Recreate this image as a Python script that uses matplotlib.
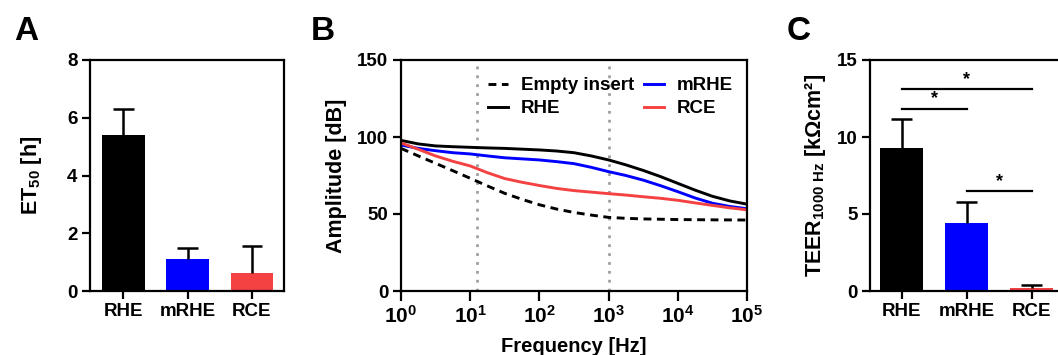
import matplotlib
matplotlib.use("Agg")
import matplotlib.pyplot as plt

plt.rcParams["font.family"] = ["Liberation Sans", "DejaVu Sans"]
plt.rcParams["font.weight"] = "bold"
plt.rcParams["font.size"] = 13
plt.rcParams["mathtext.fontset"] = "custom"
plt.rcParams["mathtext.rm"] = "Liberation Sans:bold"
plt.rcParams["mathtext.it"] = "Liberation Sans:bold"
plt.rcParams["mathtext.bf"] = "Liberation Sans:bold"
plt.rcParams["mathtext.default"] = "rm"
plt.rcParams["axes.linewidth"] = 1.6

RED = "#F44242"
BLUE = "#0000FF"

# panel A
groups = ["RHE", "mRHE", "RCE"]
et50 = [5.4, 1.1, 0.62]
et50_err = [0.9, 0.4, 0.93]

# panel B (quarter-decade readings)
freq = [1, 1.78, 3.16, 5.62, 10, 17.8, 31.6, 56.2, 100, 178, 316, 562,
        1000, 1778, 3162, 5623, 10000, 17783, 31623, 56234, 100000]
amp_rhe = [97.8, 95.5, 94.2, 93.7, 93.3, 92.9, 92.6, 92.1, 91.6, 90.9, 89.8, 87.7,
           85.1, 81.9, 78.3, 74.3, 69.9, 65.5, 61.5, 58.5, 56.4]
amp_mrhe = [94.8, 92.6, 91.1, 89.8, 89.0, 87.7, 86.5, 85.8, 85.1, 84.0, 82.7, 80.3,
            77.5, 75.0, 72.0, 68.4, 64.5, 60.4, 57.0, 54.9, 53.4]
amp_rce = [96.2, 92.0, 87.7, 84.2, 81.2, 76.8, 73.0, 70.6, 68.5, 66.6, 65.2, 64.2,
           63.2, 62.3, 61.2, 60.2, 58.9, 57.2, 55.6, 54.0, 52.7]
amp_empty = [92.6, 87.7, 82.9, 78.1, 73.2, 68.2, 63.4, 59.5, 56.0, 53.2, 51.0, 49.3,
             47.8, 47.2, 46.8, 46.6, 46.4, 46.3, 46.2, 46.15, 46.1]
marker_freqs = [12.4, 1000]

# panel C
teer = [9.3, 4.4, 0.18]
teer_err = [1.9, 1.4, 0.2]
sig_pairs = [(0, 2, 13.1), (0, 1, 11.85), (1, 2, 6.47)]

colors = ["black", BLUE, RED]


def style_ticks(ax):
    ax.tick_params(axis="both", width=1.6, length=6, direction="out", labelsize=13.5, pad=3)


def bar_panel(ax, values, errors, ylim, yticks):
    x = list(range(len(groups)))
    ax.bar(x, values, width=0.66, color=colors, edgecolor="none", zorder=2)
    tops = [v + e for v, e in zip(values, errors)]
    ax.vlines(x, values, tops, color="black", linewidth=1.8, zorder=3)
    ax.hlines(tops, [i - 0.16 for i in x], [i + 0.16 for i in x], color="black", linewidth=1.8, zorder=3)
    ax.set_xticks(x)
    ax.set_xticklabels(groups)
    ax.set_xlim(-0.52, 2.5)
    ax.set_ylim(*ylim)
    ax.set_yticks(yticks)
    style_ticks(ax)


fig = plt.figure(figsize=(10.58, 3.55), dpi=100)
H = 355.0
W = 1058.0
bottom = (H - 291) / H
height = 231 / H

# A
axA = fig.add_axes([90 / W, bottom, 194 / W, height])
bar_panel(axA, et50, et50_err, (0, 8), [0, 2, 4, 6, 8])
axA.set_ylabel("ET$_{50}$ [h]", fontsize=15.5, fontweight="bold")
axA.yaxis.set_label_coords(-0.235, 0.5)

# B
axB = fig.add_axes([401 / W, bottom, 346 / W, height])
for f in marker_freqs:
    axB.axvline(f, color="#A0A0A0", linestyle=(0, (1, 2.2)), linewidth=2, zorder=1)
axB.plot(freq, amp_empty, color="black", linestyle=(0, (2.7, 1.9)), linewidth=2.1, label="Empty insert")
axB.plot(freq, amp_rhe, color="black", linewidth=2.1, label="RHE")
axB.plot(freq, amp_mrhe, color=BLUE, linewidth=2.1, label="mRHE")
axB.plot(freq, amp_rce, color=RED, linewidth=2.1, label="RCE")
axB.set_xscale("log")
axB.set_xlim(1, 1e5)
axB.set_ylim(0, 150)
axB.set_yticks([0, 50, 100, 150])
axB.set_xticks([1, 10, 100, 1000, 1e4, 1e5])
axB.set_xticklabels(["$10^{0}$", "$10^{1}$", "$10^{2}$", "$10^{3}$", "$10^{4}$", "$10^{5}$"])
style_ticks(axB)
axB.tick_params(axis="x", which="major", length=7, labelsize=15)
axB.tick_params(axis="x", which="minor", width=1.6, length=4, direction="out")
axB.set_ylabel("Amplitude [dB]", fontsize=15.5, fontweight="bold")
axB.yaxis.set_label_coords(-0.155, 0.5)
axB.set_xlabel("Frequency [Hz]", fontsize=14.5, fontweight="bold")
axB.xaxis.set_label_coords(0.5, -0.2)
axB.legend(ncol=2, frameon=False, loc="upper right", bbox_to_anchor=(0.98, 0.958),
           handlelength=1.07, handletextpad=0.65, columnspacing=0.55, labelspacing=0.3,
           borderaxespad=0, prop={"weight": "bold", "size": 13.5})

# C
axC = fig.add_axes([870 / W, bottom, 194 / W, height])
bar_panel(axC, teer, teer_err, (0, 15), [0, 5, 10, 15])
axC.set_xlim(-0.49, 2.5)
axC.set_ylabel("TEER$_{1000\\ Hz}$ [kΩcm²]", fontsize=15.5, fontweight="bold")
axC.yaxis.set_label_coords(-0.215, 0.5)
for i, j, y in sig_pairs:
    axC.plot([i, j], [y, y], color="black", linewidth=1.6, clip_on=False)
    axC.text((i + j) / 2, y + 0.1, "*", ha="center", va="bottom", fontsize=13)

# panel letters
for letter, xpix in [("A", 14), ("B", 311), ("C", 787)]:
    fig.text(xpix / W, 1 - 16 / H, letter, fontsize=24, fontweight="bold", va="top", ha="left")

fig.savefig("out.png", dpi=100)
